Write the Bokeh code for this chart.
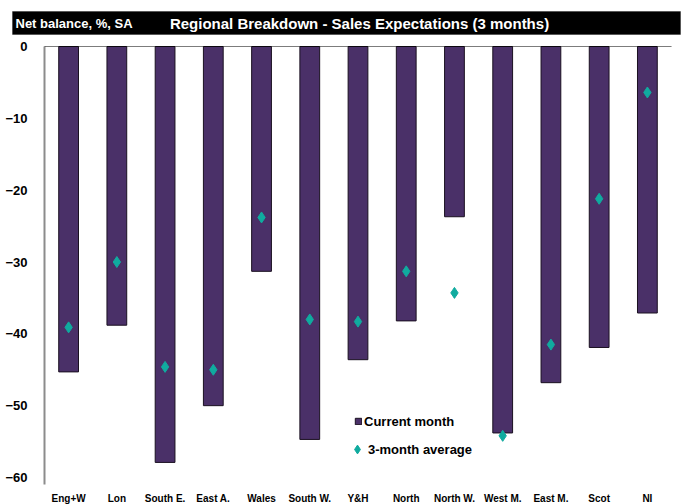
from bokeh.plotting import figure
from bokeh.models import (Range1d, Label, Legend, LegendItem, ColumnDataSource,
                          BoxAnnotation, FixedTicker)
from bokeh.embed import file_html
from bokeh.resources import INLINE

regions = ["Eng+W", "Lon", "South E.", "East A.", "Wales", "South W.", "Y&H",
           "North", "North W.", "West M.", "East M.", "Scot", "NI"]
current_month = [-45.3, -38.8, -57.9, -50.0, -31.3, -54.7, -43.6,
                 -38.2, -23.7, -53.8, -46.8, -41.9, -37.1]
three_month_avg = [-39.1, -30.0, -44.6, -45.0, -23.8, -38.0, -38.3,
                   -31.3, -34.3, -54.2, -41.5, -21.2, -6.4]
y_ticks = [0, -10, -20, -30, -40, -50, -60]
y_label = "Net balance, %, SA"
chart_title = "Regional Breakdown - Sales Expectations (3 months)"

FONT = "Liberation Sans"
BAR = "#4a3068"
TEAL = "#10ab9f"
W, H = 688, 504

# plot area geometry in pixels: categories span 44..671, value 0 at 46, -60 at 477
PX_LEFT, PX_RIGHT, PX_ZERO, PX_MIN = 44.0, 671.0, 46.0, 477.0
ux = (PX_RIGHT - PX_LEFT) / len(regions)      # px per category
uy = (PX_MIN - PX_ZERO) / 60.0                # px per value unit
def dx(px):
    return (px - PX_LEFT) / ux
def dy(py):
    return (PX_ZERO - py) / uy

positions = [i + 0.5 for i in range(len(regions))]
src = ColumnDataSource(dict(x=positions, cur=current_month, avg=three_month_avg))

p = figure(width=W, height=H, x_range=Range1d(dx(0), dx(W)), y_range=Range1d(dy(H), dy(0)),
           output_backend="svg", toolbar_location=None, min_border=0)
p.outline_line_color = None
p.xgrid.visible = False
p.ygrid.visible = False

# black title bar
p.add_layout(BoxAnnotation(left=dx(12), right=dx(680), top=dy(11), bottom=dy(34),
                           fill_color="black", fill_alpha=1, line_color="black", level="underlay"))
p.add_layout(Label(x=dx(15), y=dy(22.5), text=y_label, text_font=FONT,
                   text_font_style="bold", text_font_size="13px", text_color="white",
                   text_baseline="middle", text_align="left"))
p.add_layout(Label(x=dx(359), y=dy(22.5), text=chart_title, text_font=FONT,
                   text_font_style="bold", text_font_size="15px", text_color="white",
                   text_baseline="middle", text_align="center"))

bars = p.vbar(x="x", top=0, bottom="cur", width=0.41, source=src,
              fill_color=BAR, line_color="#1a1020", line_width=1)
pts = p.scatter(x="x", y="avg", source=src, marker="diamond", size=11,
                fill_color=TEAL, line_color=TEAL)

# zero line across the category area
p.add_layout(BoxAnnotation(left=0, right=len(regions), top=0, bottom=0,
                           fill_alpha=0, line_color="black", line_width=1))

# value axis at the left edge of the category area
ya = p.yaxis[0]
ya.fixed_location = 0
ya.ticker = FixedTicker(ticks=y_ticks)
ya.bounds = (dy(484), 0)
ya.axis_line_color = "#8c8c8c"
ya.axis_line_width = 2
ya.major_tick_line_color = None
ya.minor_tick_line_color = None
ya.major_label_text_font = FONT
ya.major_label_text_font_style = "bold"
ya.major_label_text_font_size = "13px"
ya.major_label_text_color = "black"
ya.major_label_standoff = 11

# category labels below the -60 level
xa = p.xaxis[0]
xa.fixed_location = -60
xa.ticker = FixedTicker(ticks=positions)
xa.major_label_overrides = {pos: name for pos, name in zip(positions, regions)}
xa.axis_line_color = None
xa.major_tick_line_color = None
xa.minor_tick_line_color = None
xa.major_label_text_font = FONT
xa.major_label_text_font_style = "bold"
xa.major_label_text_font_size = "10px"
xa.major_label_text_color = "black"
xa.major_label_standoff = 9

legend_style = dict(orientation="vertical", label_text_font=FONT,
                    label_text_font_style="bold", label_text_font_size="13px",
                    label_text_color="black", padding=4, margin=0,
                    border_line_color=None, background_fill_alpha=0)
legend_bar = Legend(items=[LegendItem(label="Current month", renderers=[bars])],
                    location=(354, 74), glyph_width=8, glyph_height=8, label_height=18,
                    label_standoff=2, **legend_style)
legend_pts = Legend(items=[LegendItem(label="3-month average", renderers=[pts])],
                    location=(346, 44), glyph_width=22, glyph_height=22, label_height=22,
                    label_standoff=-4, **legend_style)
p.add_layout(legend_bar)
p.add_layout(legend_pts)

open("out.html", "w").write(file_html(p, INLINE))
